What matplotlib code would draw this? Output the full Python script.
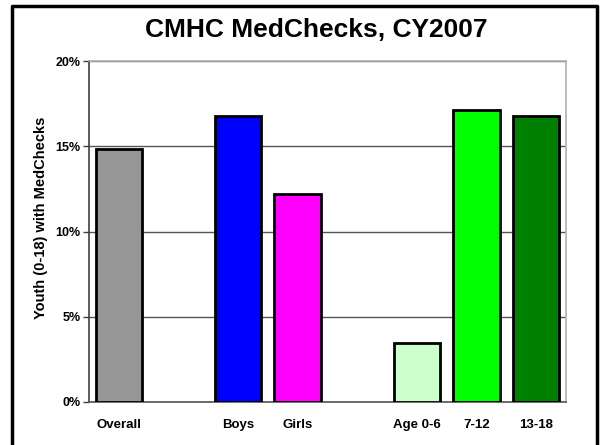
import matplotlib
matplotlib.use("Agg")
from matplotlib import pyplot as plt
from matplotlib.lines import Line2D
from matplotlib.ticker import FuncFormatter

plt.rcParams['font.family'] = ['Liberation Sans', 'DejaVu Sans']

categories = ['Overall', '', 'Boys', 'Girls', '', 'Age 0-6', '7-12', '13-18']
values = [14.84, None, 16.78, 12.2, None, 3.45, 17.12, 16.78]
colors = ['#969696', None, '#0000ff', '#ff00ff', None, '#ccffcc', '#00ff00', '#008000']

fig = plt.figure(figsize=(6, 4.45), dpi=100)
ax = fig.add_axes([89 / 600, 43 / 445, 477 / 600, 341 / 445])

for i, (v, c) in enumerate(zip(values, colors)):
    if v is None:
        continue
    ax.bar(i, v, width=0.78, color=c, edgecolor='black', linewidth=2, zorder=3)

ax.set_xlim(-0.5, len(categories) - 0.5)
ax.set_ylim(0, 20)
ax.set_yticks([0, 5, 10, 15, 20])
ax.yaxis.set_major_formatter(FuncFormatter(lambda y, _: f'{int(y)}%'))
ax.set_xticks(range(len(categories)))
ax.set_xticklabels(categories, fontsize=9.5, fontweight='bold')
ax.tick_params(axis='x', length=0, pad=12)
ax.tick_params(axis='y', length=4, width=1, color='#404040', labelsize=9, pad=2)
for lbl in ax.get_yticklabels():
    lbl.set_fontweight('bold')
ax.grid(axis='y', color='#555555', linewidth=1, zorder=0)
ax.spines['left'].set_color('#404040')
ax.spines['bottom'].set_color('#555555')
ax.spines['top'].set_color('#b0b0b0')
ax.spines['right'].set_color('#b0b0b0')
for s in ax.spines.values():
    s.set_linewidth(1.2)
ax.set_ylabel('Youth (0-18) with MedChecks', fontsize=10.5, fontweight='bold')
ax.yaxis.set_label_coords(-0.087, 0.54)

fig.text(316 / 600, 1 - 30 / 445, 'CMHC MedChecks, CY2007', ha='center', va='center',
         fontsize=19, fontweight='bold')

# outer frame
frame_x = [12 / 600, 12 / 600, 597 / 600, 597 / 600]
frame_y = [0, 1 - 6 / 445, 1 - 6 / 445, 0]
fig.add_artist(Line2D(frame_x, frame_y, color='black', linewidth=2.5, transform=fig.transFigure))

fig.savefig('out.png', dpi=100)
